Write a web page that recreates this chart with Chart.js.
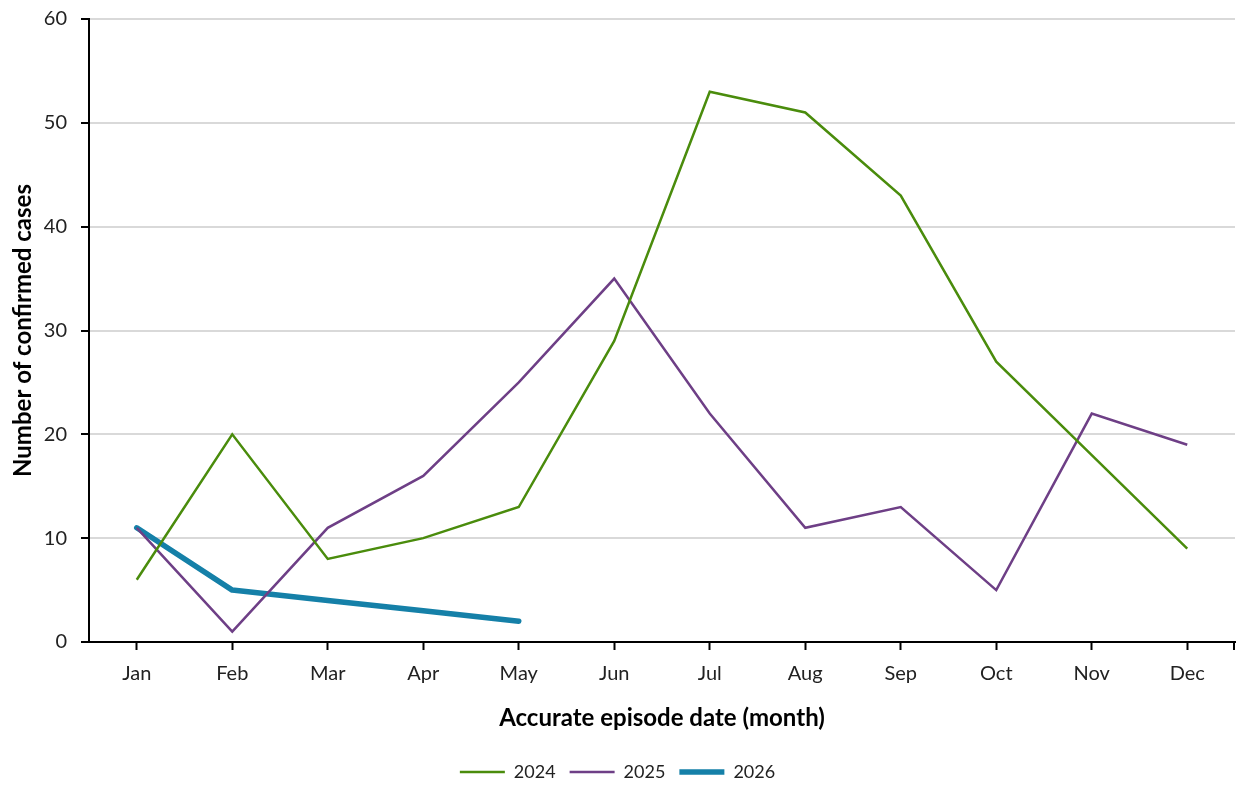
<!DOCTYPE html>
<html>
<head>
<meta charset="utf-8">
<script src="https://cdn.jsdelivr.net/npm/chart.js@4"></script>
<style>
  html, body { margin: 0; padding: 0; background: #fff; }
  #wrap { width: 1237px; height: 785px; }
</style>
</head>
<body>
<div id="wrap"><canvas id="casesChart" width="1237" height="785"></canvas></div>
<script>
const months = ['Jan', 'Feb', 'Mar', 'Apr', 'May', 'Jun', 'Jul', 'Aug', 'Sep', 'Oct', 'Nov', 'Dec'];
const cases2024 = [6, 20, 8, 10, 13, 29, 53, 51, 43, 27, 18, 9];
const cases2025 = [11, 1, 11, 16, 25, 35, 22, 11, 13, 5, 22, 19];
const cases2026 = [11, 5, 4, 3, 2];
const yTicks = [0, 10, 20, 30, 40, 50, 60];

const FONT = 'Lato, "Open Sans", sans-serif';

// extra tick at the right end of the x axis
const endTick = {
    id: 'endTick',
    afterDraw(chart) {
        const { ctx, chartArea } = chart;
        ctx.save();
        ctx.strokeStyle = '#000';
        ctx.lineWidth = 2;
        ctx.beginPath();
        ctx.moveTo(chartArea.right - 1, chartArea.bottom);
        ctx.lineTo(chartArea.right - 1, chartArea.bottom + 8);
        ctx.stroke();
        ctx.restore();
    }
};

const ctx = document.getElementById('casesChart').getContext('2d');
new Chart(ctx, {
    type: 'line',
    data: {
        labels: months,
        datasets: [
            {
                label: '2024',
                data: cases2024,
                borderColor: '#4a8c0c',
                backgroundColor: '#4a8c0c',
                borderWidth: 2.5,
                pointRadius: 0,
                tension: 0
            },
            {
                label: '2025',
                data: cases2025,
                borderColor: '#6e3f86',
                backgroundColor: '#6e3f86',
                borderWidth: 2.5,
                pointRadius: 0,
                tension: 0
            },
            {
                label: '2026',
                data: cases2026,
                borderColor: '#1580a8',
                backgroundColor: '#1580a8',
                borderWidth: 5.5,
                borderCapStyle: 'round',
                borderJoinStyle: 'round',
                pointRadius: 0,
                tension: 0
            }
        ]
    },
    plugins: [endTick],
    options: {
        responsive: false,
        animation: false,
        layout: { padding: { top: 19, right: 2, left: 0, bottom: -6 } },
        plugins: {
            tooltip: { enabled: false },
            legend: {
                position: 'bottom',
                labels: {
                    color: '#222',
                    font: { family: FONT, size: 18 },
                    usePointStyle: true,
                    pointStyle: 'line',
                    pointStyleWidth: 45,
                    boxHeight: 18,
                    padding: 14
                }
            }
        },
        scales: {
            x: {
                offset: true,
                afterFit: s => { s.height = 107; },
                grid: {
                    offset: false,
                    drawOnChartArea: false,
                    tickColor: '#000',
                    tickWidth: 2,
                    tickLength: 8
                },
                border: { color: '#000', width: 2 },
                ticks: {
                    color: '#222',
                    font: { family: FONT, size: 20 },
                    padding: 12
                },
                title: {
                    display: true,
                    text: 'Accurate episode date (month)',
                    color: '#000',
                    font: { family: FONT, size: 24, weight: 'bold' },
                    padding: { top: 12, bottom: 16 }
                }
            },
            y: {
                min: 0,
                max: 60,
                afterFit: s => { s.width = 89; s.paddingTop = 0; },
                afterBuildTicks: s => { s.ticks = yTicks.map(v => ({ value: v })); },
                grid: {
                    color: '#d9d9d9',
                    lineWidth: 2,
                    tickColor: '#000',
                    tickWidth: 2,
                    tickLength: 8
                },
                border: { color: '#000', width: 2 },
                ticks: {
                    color: '#222',
                    font: { family: FONT, size: 20 },
                    padding: 14
                },
                title: {
                    display: true,
                    text: 'Number of confirmed cases',
                    color: '#000',
                    font: { family: FONT, size: 24, weight: 'bold' },
                    padding: { top: 9, bottom: 4 }
                }
            }
        }
    }
});
</script>
</body>
</html>
